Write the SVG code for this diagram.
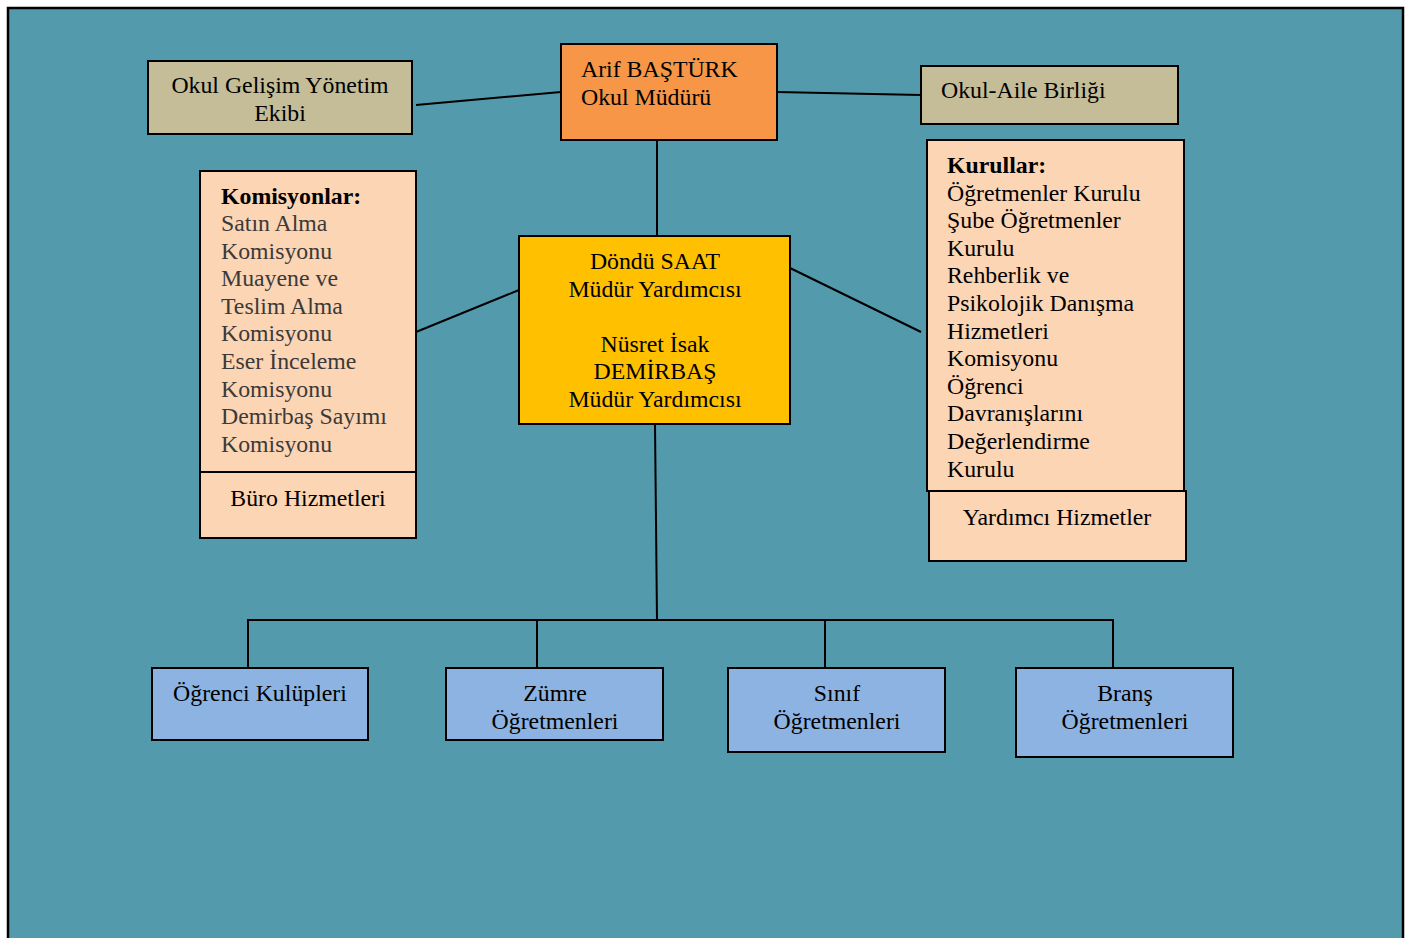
<svg xmlns="http://www.w3.org/2000/svg" width="1411" height="938" viewBox="0 0 1411 938">
<style>
text{font-family:"Liberation Serif","Times New Roman",serif;font-size:23.8px;fill:#000}
.c{text-anchor:middle}
.g{fill:#3a3a3a}
.b{font-weight:bold}
.box{stroke:#000;stroke-width:2}
.tan{fill:#C4BD97}
.org{fill:#F79646}
.yel{fill:#FFC000}
.pch{fill:#FCD5B4}
.blu{fill:#8DB3E2}
#connectors line{stroke:#000;stroke-width:2}
</style>
<rect x="0" y="0" width="1411" height="938" fill="#fff"/>
<rect x="8" y="8" width="1395" height="940" fill="#539AAC" stroke="#000" stroke-width="2.5"/>
<g id="connectors">
<line x1="416" y1="105" x2="561" y2="92"/>
<line x1="777" y1="92" x2="921" y2="95"/>
<line x1="657" y1="140" x2="657" y2="236"/>
<line x1="519" y1="290" x2="416" y2="332"/>
<line x1="790" y1="268" x2="921" y2="332"/>
<line x1="655" y1="424" x2="657" y2="620"/>
<line x1="247" y1="620" x2="1114" y2="620"/>
<line x1="248" y1="620" x2="248" y2="668"/>
<line x1="537" y1="620" x2="537" y2="668"/>
<line x1="825" y1="620" x2="825" y2="668"/>
<line x1="1113" y1="620" x2="1113" y2="668"/>
</g>
<g id="ogye">
<rect class="box tan" x="148" y="61" width="264" height="73"/>
<text class="c" x="280" y="93">Okul Gelişim Yönetim</text>
<text class="c" x="280" y="121">Ekibi</text>
</g>
<g id="mudur">
<rect class="box org" x="561" y="44" width="216" height="96"/>
<text x="581" y="77">Arif BAŞTÜRK</text>
<text x="581" y="105">Okul Müdürü</text>
</g>
<g id="oab">
<rect class="box tan" x="921" y="66" width="257" height="58"/>
<text x="941" y="98">Okul-Aile Birliği</text>
</g>
<g id="komisyonlar">
<rect class="box pch" x="200" y="171" width="216" height="301"/>
<text class="b" x="221" y="204">Komisyonlar:</text>
<text class="g" x="221" y="231">Satın Alma</text>
<text class="g" x="221" y="259">Komisyonu</text>
<text class="g" x="221" y="286">Muayene ve</text>
<text class="g" x="221" y="314">Teslim Alma</text>
<text class="g" x="221" y="341">Komisyonu</text>
<text class="g" x="221" y="369">Eser İnceleme</text>
<text class="g" x="221" y="397">Komisyonu</text>
<text class="g" x="221" y="424">Demirbaş Sayımı</text>
<text class="g" x="221" y="452">Komisyonu</text>
</g>
<g id="buro">
<rect class="box pch" x="200" y="472" width="216" height="66"/>
<text class="c" x="308" y="506">Büro Hizmetleri</text>
</g>
<g id="yardimcilar">
<rect class="box yel" x="519" y="236" width="271" height="188"/>
<text class="c" x="655" y="269">Döndü SAAT</text>
<text class="c" x="655" y="297">Müdür Yardımcısı</text>
<text class="c" x="655" y="352">Nüsret İsak</text>
<text class="c" x="655" y="379">DEMİRBAŞ</text>
<text class="c" x="655" y="407">Müdür Yardımcısı</text>
</g>
<g id="kurullar">
<rect class="box pch" x="927" y="140" width="257" height="351"/>
<text class="b" x="947" y="173">Kurullar:</text>
<text x="947" y="201">Öğretmenler Kurulu</text>
<text x="947" y="228">Şube Öğretmenler</text>
<text x="947" y="256">Kurulu</text>
<text x="947" y="283">Rehberlik ve</text>
<text x="947" y="311">Psikolojik Danışma</text>
<text x="947" y="339">Hizmetleri</text>
<text x="947" y="366">Komisyonu</text>
<text x="947" y="394">Öğrenci</text>
<text x="947" y="421">Davranışlarını</text>
<text x="947" y="449">Değerlendirme</text>
<text x="947" y="477">Kurulu</text>
</g>
<g id="yardimci-hizmetler">
<rect class="box pch" x="929" y="491" width="257" height="70"/>
<text class="c" x="1057" y="525">Yardımcı Hizmetler</text>
</g>
<g id="kulupler">
<rect class="box blu" x="152" y="668" width="216" height="72"/>
<text class="c" x="260" y="701">Öğrenci Kulüpleri</text>
</g>
<g id="zumre">
<rect class="box blu" x="446" y="668" width="217" height="72"/>
<text class="c" x="555" y="701">Zümre</text>
<text class="c" x="555" y="729">Öğretmenleri</text>
</g>
<g id="sinif">
<rect class="box blu" x="728" y="668" width="217" height="84"/>
<text class="c" x="837" y="701">Sınıf</text>
<text class="c" x="837" y="729">Öğretmenleri</text>
</g>
<g id="brans">
<rect class="box blu" x="1016" y="668" width="217" height="89"/>
<text class="c" x="1125" y="701">Branş</text>
<text class="c" x="1125" y="729">Öğretmenleri</text>
</g>
</svg>
